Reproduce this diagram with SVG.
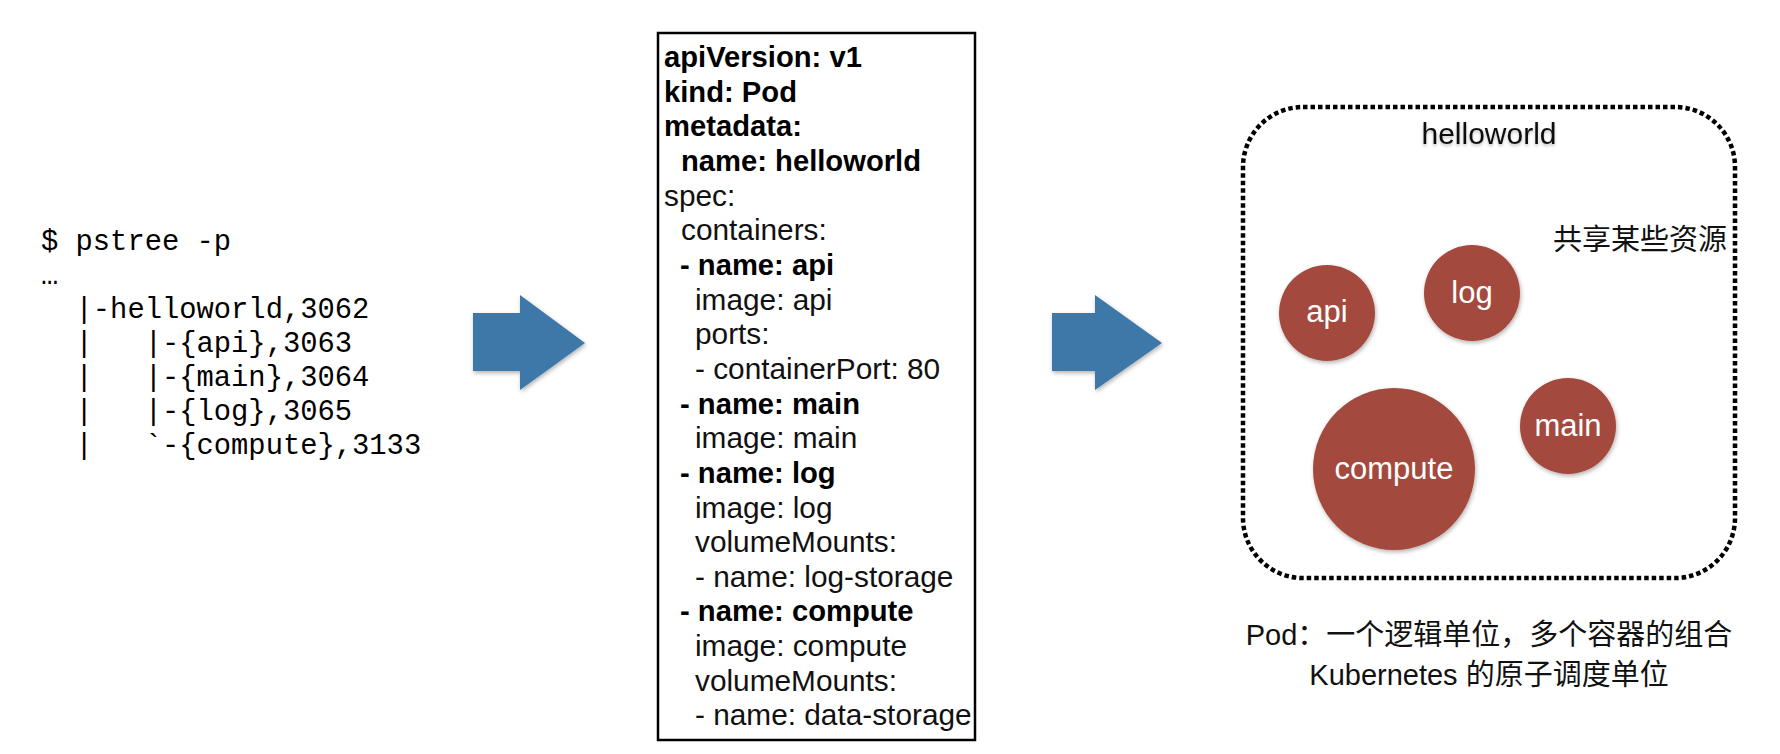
<svg xmlns="http://www.w3.org/2000/svg" width="1780" height="754" viewBox="0 0 1780 754">
  <defs>
    <filter id="shadow" x="-10%" y="-10%" width="130%" height="130%">
      <feDropShadow dx="1" dy="2" stdDeviation="2" flood-color="#000" flood-opacity="0.3"/>
    </filter>
    <filter id="tshadow" x="-10%" y="-30%" width="120%" height="160%">
      <feDropShadow dx="0" dy="2" stdDeviation="1.5" flood-color="#000" flood-opacity="0.25"/>
    </filter>
  </defs>
  <style>
    .mono { font-family: "Liberation Mono", "DejaVu Sans Mono", monospace; font-size: 28.8px; fill: #000; }
    .y { font-family: "Liberation Sans", Arial, sans-serif; font-size: 29.8px; fill: #111; }
    .b { font-weight: bold; font-size: 29.2px; fill: #000; }
    .arrow { fill: #3e78a9; filter: url(#shadow); }
    .circle { fill: #a4493c; filter: url(#shadow); }
    .clabel { font-family: "Liberation Sans", Arial, sans-serif; font-size: 31px; fill: #fff; text-anchor: middle; }
    .cap { font-family: "Liberation Sans", "Noto Sans CJK SC", sans-serif; font-size: 29px; fill: #111; text-anchor: middle; }
  </style>
  <rect width="1780" height="754" fill="#fff"/>

  <g id="pstree">
    <text class="mono" x="41" y="250" xml:space="preserve">$ pstree -p</text>
    <text class="mono" x="41" y="284" xml:space="preserve">…</text>
    <text class="mono" x="41" y="318" xml:space="preserve">  |-helloworld,3062</text>
    <text class="mono" x="41" y="352" xml:space="preserve">  |   |-{api},3063</text>
    <text class="mono" x="41" y="386" xml:space="preserve">  |   |-{main},3064</text>
    <text class="mono" x="41" y="420" xml:space="preserve">  |   |-{log},3065</text>
    <text class="mono" x="41" y="454" xml:space="preserve">  |   `-{compute},3133</text>
  </g>

  <g id="connectors">
    <polygon id="arrow1" class="arrow" points="473,313 520,313 520,295 585,343 520,390 520,371 473,371"/>
    <polygon id="arrow2" class="arrow" points="1052,313 1095,313 1095,295 1162,343 1095,390 1095,371 1052,371"/>
  </g>

  <g id="yaml">
    <rect x="658" y="33" width="317" height="707" fill="#fff" stroke="#000" stroke-width="2.5"/>
    <text class="y b" x="664" y="67">apiVersion: v1</text>
    <text class="y b" x="664" y="101.6">kind: Pod</text>
    <text class="y b" x="664" y="136.3">metadata:</text>
    <text class="y b" x="681" y="171">name: helloworld</text>
    <text class="y" x="664" y="205.6">spec:</text>
    <text class="y" x="681" y="240.3">containers:</text>
    <text class="y b" x="680" y="274.9">- name: api</text>
    <text class="y" x="695" y="309.6">image: api</text>
    <text class="y" x="695" y="344.2">ports:</text>
    <text class="y" x="695" y="378.9">- containerPort: 80</text>
    <text class="y b" x="680" y="413.5">- name: main</text>
    <text class="y" x="695" y="448.2">image: main</text>
    <text class="y b" x="680" y="482.8">- name: log</text>
    <text class="y" x="695" y="517.5">image: log</text>
    <text class="y" x="695" y="552.1">volumeMounts:</text>
    <text class="y" x="695" y="586.8">- name: log-storage</text>
    <text class="y b" x="680" y="621.4">- name: compute</text>
    <text class="y" x="695" y="656.1">image: compute</text>
    <text class="y" x="695" y="690.7">volumeMounts:</text>
    <text class="y" x="695" y="725.4">- name: data-storage</text>
  </g>

  <g id="pod">
    <rect x="1243" y="107" width="492" height="471" rx="60" ry="60" fill="none" stroke="#000" stroke-width="4.5" stroke-dasharray="4.5 3"/>
    <text x="1489" y="144" font-family="'Liberation Sans', Arial, sans-serif" font-size="30" fill="#111" text-anchor="middle" filter="url(#tshadow)">helloworld</text>
    <text x="1727" y="250" font-family="'Noto Sans CJK SC', sans-serif" font-size="29" fill="#111" text-anchor="end">共享某些资源</text>
  </g>

  <g id="node-api">
    <circle class="circle" cx="1327" cy="313" r="48"/>
    <text class="clabel" x="1327" y="322">api</text>
  </g>
  <g id="node-log">
    <circle class="circle" cx="1472" cy="293" r="48"/>
    <text class="clabel" x="1472" y="303">log</text>
  </g>
  <g id="node-main">
    <circle class="circle" cx="1568" cy="426" r="48"/>
    <text class="clabel" x="1568" y="436">main</text>
  </g>
  <g id="node-compute">
    <circle class="circle" cx="1394" cy="469" r="81"/>
    <text class="clabel" x="1394" y="479">compute</text>
  </g>

  <g id="caption">
    <text class="cap" x="1489" y="645">Pod：一个逻辑单位，多个容器的组合</text>
    <text class="cap" x="1489" y="685">Kubernetes 的原子调度单位</text>
  </g>
</svg>
